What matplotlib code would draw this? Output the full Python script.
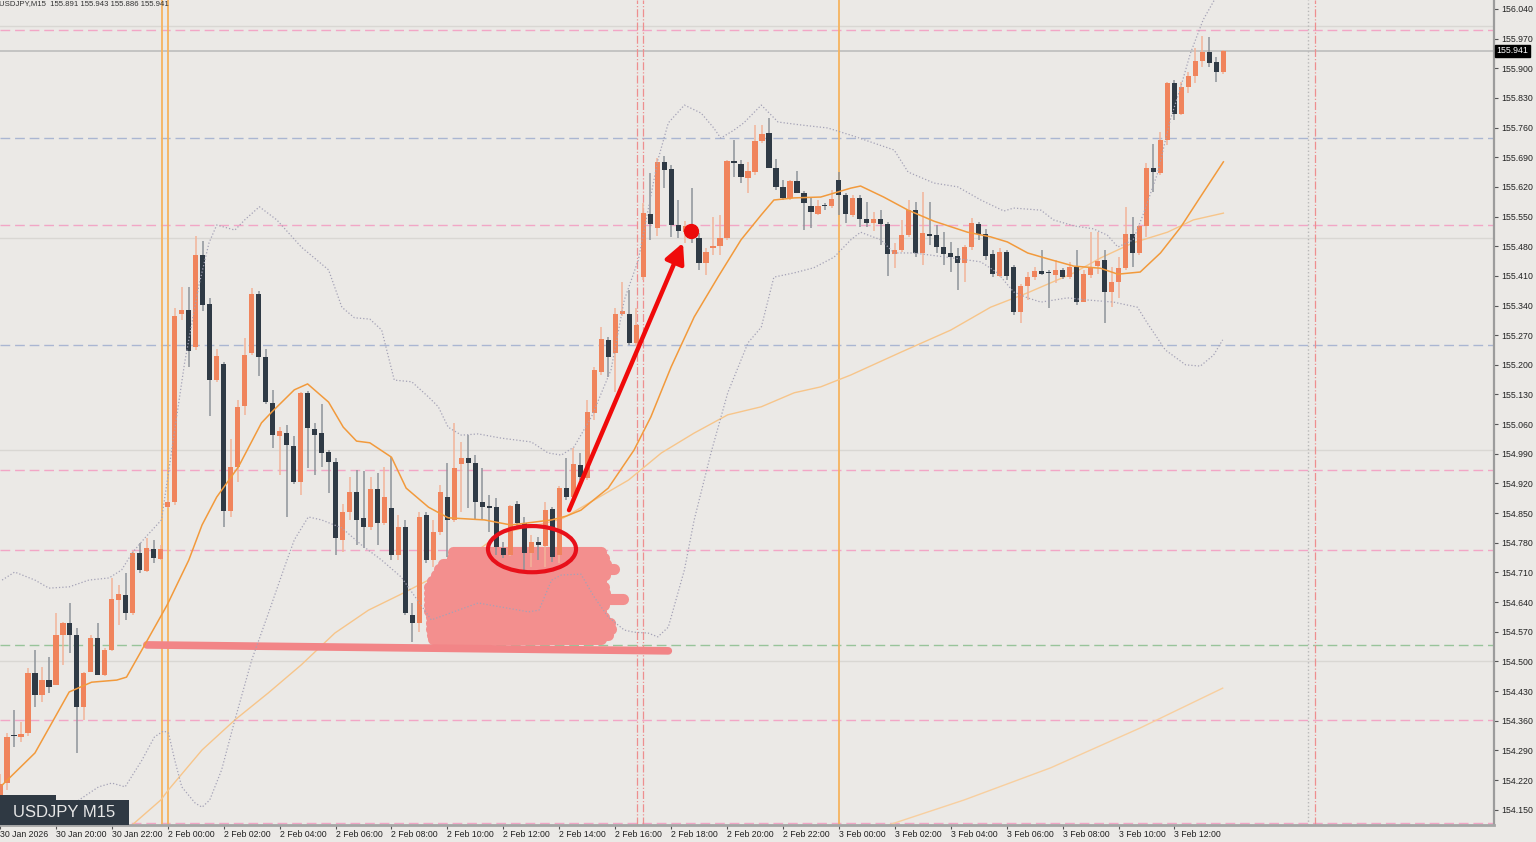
import matplotlib
matplotlib.use("Agg")
import matplotlib.pyplot as plt
import matplotlib.transforms as mtransforms
from matplotlib.patches import Ellipse, Rectangle
import numpy as np

plt.rcParams["font.family"] = ["Liberation Sans", "DejaVu Sans"]

# ---- candles (USDJPY M15, bar 0 = 30 Jan 18:00) ----
opens = [
    154.170, 154.213, 154.326, 154.322, 154.331, 154.473, 154.421, 154.456, 154.444, 154.562,
    154.591, 154.562, 154.393, 154.475, 154.555, 154.468, 154.527, 154.645, 154.657, 154.614,
    154.756, 154.713, 154.765, 154.742, 154.864, 154.876, 155.320, 155.329, 155.242, 155.459,
    155.344, 155.164, 155.202, 154.855, 154.959, 155.103, 155.228, 155.367, 155.218, 155.110,
    155.032, 155.039, 155.009, 154.923, 155.134, 155.049, 155.039, 154.994, 154.971, 154.787,
    154.853, 154.900, 154.839, 154.817, 154.907, 154.827, 154.862, 154.751, 154.817, 154.610,
    154.591, 154.846, 154.739, 154.805, 154.888, 154.834, 154.966, 154.980, 154.968, 154.876,
    154.864, 154.864, 154.768, 154.751, 154.872, 154.827, 154.756, 154.782, 154.772, 154.860,
    154.751, 154.909, 154.888, 154.964, 154.933, 155.086, 155.183, 155.259, 155.228, 155.320,
    155.320, 155.252, 155.407, 155.556, 155.523, 155.679, 155.662, 155.530, 155.514, 155.525,
    155.499, 155.440, 155.476, 155.480, 155.499, 155.681, 155.674, 155.641, 155.655, 155.728,
    155.747, 155.665, 155.620, 155.594, 155.634, 155.606, 155.575, 155.556, 155.575, 155.575,
    155.636, 155.601, 155.554, 155.594, 155.544, 155.535, 155.544, 155.532, 155.462, 155.471,
    155.506, 155.565, 155.464, 155.509, 155.506, 155.478, 155.464, 155.457, 155.440, 155.478,
    155.532, 155.509, 155.462, 155.410, 155.466, 155.431, 155.325, 155.386, 155.407, 155.421,
    155.417, 155.412, 155.424, 155.407, 155.431, 155.348, 155.412, 155.433, 155.447, 155.372,
    155.395, 155.428, 155.509, 155.464, 155.528, 155.665, 155.653, 155.731, 155.865, 155.792,
    155.856, 155.882, 155.917, 155.938, 155.915, 155.891,
]
highs = [
    154.235, 154.331, 154.385, 154.357, 154.485, 154.527, 154.487, 154.511, 154.614, 154.593,
    154.638, 154.579, 154.475, 154.562, 154.591, 154.532, 154.697, 154.680, 154.709, 154.761,
    154.780, 154.791, 154.787, 154.775, 154.881, 155.334, 155.384, 155.384, 155.504, 155.492,
    155.358, 155.237, 155.207, 155.025, 155.117, 155.263, 155.381, 155.374, 155.237, 155.141,
    155.053, 155.058, 155.032, 155.136, 155.138, 155.063, 155.108, 154.999, 154.980, 154.872,
    154.935, 154.952, 154.949, 154.935, 154.945, 154.959, 154.982, 154.846, 154.834, 154.638,
    154.853, 154.853, 154.834, 154.916, 154.968, 155.063, 155.018, 155.035, 154.987, 154.957,
    154.893, 154.886, 154.782, 154.869, 154.879, 154.841, 154.798, 154.794, 154.876, 154.864,
    154.914, 154.980, 155.004, 154.992, 155.117, 155.195, 155.289, 155.266, 155.334, 155.395,
    155.377, 155.334, 155.582, 155.653, 155.688, 155.693, 155.672, 155.589, 155.539, 155.617,
    155.511, 155.476, 155.549, 155.554, 155.683, 155.731, 155.683, 155.679, 155.766, 155.766,
    155.783, 155.686, 155.636, 155.636, 155.657, 155.610, 155.596, 155.589, 155.582, 155.613,
    155.655, 155.606, 155.601, 155.601, 155.584, 155.561, 155.565, 155.537, 155.487, 155.542,
    155.589, 155.584, 155.608, 155.584, 155.530, 155.513, 155.490, 155.476, 155.483, 155.547,
    155.537, 155.521, 155.471, 155.476, 155.471, 155.436, 155.391, 155.419, 155.431, 155.471,
    155.424, 155.447, 155.428, 155.443, 155.471, 155.424, 155.513, 155.513, 155.471, 155.431,
    155.454, 155.572, 155.549, 155.530, 155.676, 155.721, 155.749, 155.867, 155.872, 155.867,
    155.891, 155.948, 155.976, 155.974, 155.926, 155.943,
]
lows = [
    154.160, 154.197, 154.298, 154.310, 154.324, 154.393, 154.404, 154.425, 154.444, 154.492,
    154.520, 154.284, 154.362, 154.475, 154.468, 154.466, 154.525, 154.586, 154.598, 154.610,
    154.709, 154.711, 154.732, 154.740, 154.862, 154.869, 155.306, 155.195, 155.235, 155.327,
    155.079, 155.160, 154.817, 154.841, 154.923, 155.082, 155.223, 155.174, 155.108, 155.004,
    154.940, 154.841, 154.919, 154.893, 154.956, 154.940, 154.959, 154.898, 154.751, 154.758,
    154.834, 154.775, 154.768, 154.810, 154.775, 154.822, 154.739, 154.739, 154.610, 154.546,
    154.569, 154.732, 154.723, 154.798, 154.746, 154.829, 154.853, 154.862, 154.834, 154.834,
    154.805, 154.751, 154.744, 154.749, 154.815, 154.716, 154.723, 154.739, 154.723, 154.735,
    154.732, 154.881, 154.886, 154.928, 154.928, 155.070, 155.176, 155.171, 155.136, 155.315,
    155.247, 155.244, 155.400, 155.495, 155.504, 155.617, 155.502, 155.499, 155.488, 155.488,
    155.424, 155.412, 155.459, 155.459, 155.495, 155.643, 155.629, 155.606, 155.648, 155.724,
    155.665, 155.613, 155.589, 155.589, 155.606, 155.518, 155.523, 155.554, 155.565, 155.570,
    155.554, 155.535, 155.549, 155.525, 155.525, 155.516, 155.483, 155.410, 155.428, 155.466,
    155.502, 155.454, 155.436, 155.483, 155.464, 155.436, 155.419, 155.377, 155.396, 155.471,
    155.495, 155.447, 155.407, 155.407, 155.400, 155.318, 155.299, 155.353, 155.400, 155.412,
    155.334, 155.393, 155.403, 155.403, 155.341, 155.348, 155.405, 155.414, 155.299, 155.336,
    155.358, 155.424, 155.431, 155.459, 155.502, 155.608, 155.648, 155.719, 155.778, 155.790,
    155.842, 155.865, 155.903, 155.903, 155.867, 155.886,
]
closes = [
    154.210, 154.322, 154.324, 154.329, 154.473, 154.421, 154.456, 154.440, 154.562, 154.591,
    154.562, 154.393, 154.473, 154.555, 154.468, 154.527, 154.647, 154.659, 154.614, 154.756,
    154.716, 154.768, 154.744, 154.765, 154.876, 155.315, 155.329, 155.233, 155.459, 155.341,
    155.164, 155.221, 154.855, 154.959, 155.101, 155.223, 155.367, 155.218, 155.112, 155.035,
    155.044, 155.011, 154.923, 155.134, 155.051, 155.035, 154.992, 154.971, 154.791, 154.853,
    154.900, 154.834, 154.817, 154.907, 154.827, 154.888, 154.751, 154.817, 154.614, 154.591,
    154.841, 154.739, 154.805, 154.900, 154.834, 154.957, 154.980, 154.968, 154.876, 154.864,
    154.863, 154.770, 154.751, 154.867, 154.827, 154.756, 154.782, 154.775, 154.857, 154.746,
    154.909, 154.888, 154.966, 154.935, 155.089, 155.188, 155.261, 155.218, 155.320, 155.327,
    155.252, 155.294, 155.558, 155.532, 155.679, 155.660, 155.530, 155.516, 155.528, 155.499,
    155.440, 155.466, 155.480, 155.499, 155.681, 155.676, 155.643, 155.657, 155.728, 155.745,
    155.665, 155.620, 155.594, 155.634, 155.606, 155.582, 155.561, 155.575, 155.574, 155.591,
    155.601, 155.556, 155.594, 155.544, 155.535, 155.544, 155.532, 155.462, 155.471, 155.506,
    155.565, 155.464, 155.511, 155.504, 155.478, 155.462, 155.454, 155.440, 155.478, 155.535,
    155.509, 155.457, 155.414, 155.466, 155.410, 155.325, 155.386, 155.407, 155.421, 155.414,
    155.416, 155.424, 155.407, 155.431, 155.348, 155.414, 155.428, 155.445, 155.372, 155.395,
    155.428, 155.509, 155.464, 155.528, 155.665, 155.655, 155.731, 155.865, 155.792, 155.856,
    155.882, 155.917, 155.938, 155.912, 155.891, 155.941,
]

# ---- indicators, read at sample bars ----
ma_fast_bar = [0.3, 5.0, 9.9, 13.1, 16.7, 18.1, 20.7, 23.9, 27.0, 28.9, 31.0, 34.1, 37.4, 38.9,
               42.1, 44.0, 47.0, 49.1, 51.0, 52.9, 56.0, 58.1, 61.3, 64.1, 69.3, 73.1, 78.9,
               81.0, 83.1, 87.0, 90.7, 93.1, 96.0, 99.3, 102.7, 106.0, 108.9, 110.7, 113.6,
               117.4, 121.7, 123.1, 126.4, 129.9, 133.6, 138.4, 141.7, 144.1, 147.0, 149.9,
               153.6, 157.4, 159.9, 163.1, 166.0, 168.9, 171.7, 175.0]
ma_fast_val = [154.208, 154.284, 154.428, 154.451, 154.456, 154.463, 154.539, 154.633, 154.739,
               154.822, 154.888, 154.959, 155.063, 155.089, 155.141, 155.155, 155.112, 155.053,
               155.020, 155.016, 154.982, 154.909, 154.864, 154.839, 154.834, 154.822, 154.834,
               154.843, 154.857, 154.909, 154.999, 155.077, 155.195, 155.313, 155.407, 155.495,
               155.554, 155.589, 155.594, 155.596, 155.617, 155.622, 155.596, 155.565, 155.539,
               155.513, 155.502, 155.490, 155.464, 155.450, 155.433, 155.428, 155.414, 155.419,
               155.464, 155.525, 155.596, 155.679]

ma_mid_bar = [18.9, 23.0, 24.1, 28.9, 33.6, 38.4, 43.1, 47.9, 52.7, 57.4, 62.1, 67.0, 71.7, 76.4,
              80.3, 85.0, 89.9, 94.6, 99.3, 104.1, 108.9, 113.6, 117.4, 121.7, 128.9, 136.0,
              141.7, 147.0, 153.6, 157.4, 162.1, 167.0, 170.7, 175.0]
ma_mid_val = [154.114, 154.173, 154.197, 154.291, 154.362, 154.426, 154.492, 154.567, 154.621,
              154.659, 154.699, 154.746, 154.803, 154.820, 154.836, 154.881, 154.928, 154.992,
              155.039, 155.082, 155.101, 155.134, 155.148, 155.176, 155.230, 155.282, 155.336,
              155.370, 155.417, 155.452, 155.488, 155.513, 155.542, 155.558]

ma_slow_bar = [127.1, 137.9, 150.3, 163.1, 174.9]
ma_slow_val = [154.114, 154.173, 154.249, 154.343, 154.437]

bb_up_bar = [0.3, 2.1, 5.0, 7.0, 9.9, 12.7, 15.6, 17.4, 18.9, 20.7, 23.1, 26.4, 28.4, 29.9, 31.0,
             33.6, 35.0, 37.1, 39.6, 43.1, 47.0, 48.9, 50.7, 52.9, 54.6, 56.4, 58.9, 61.3, 62.7,
             64.1, 66.0, 68.4, 71.7, 76.0, 78.4, 80.3, 82.1, 84.6, 87.4, 89.3, 91.3, 92.7, 94.1,
             95.6, 97.9, 100.3, 102.1, 103.1, 105.0, 106.4, 108.9, 111.3, 114.6, 118.4, 121.7,
             127.9, 129.9, 133.6, 137.0, 140.3, 143.6, 145.0, 148.9, 150.7, 153.6, 156.4, 158.4,
             159.9, 162.1, 163.6, 165.6, 167.4, 168.9, 170.3, 172.1, 174.9]
bb_up_val = [154.692, 154.711, 154.692, 154.673, 154.676, 154.692, 154.697, 154.716, 154.756,
             154.791, 154.834, 155.204, 155.384, 155.488, 155.530, 155.518, 155.542, 155.573,
             155.542, 155.478, 155.424, 155.336, 155.311, 155.308, 155.282, 155.164, 155.160,
             155.124, 155.101, 155.053, 155.034, 155.037, 155.027, 155.018, 154.992, 154.987,
             155.006, 155.077, 155.188, 155.353, 155.447, 155.565, 155.683, 155.771, 155.813,
             155.794, 155.759, 155.735, 155.754, 155.771, 155.813, 155.773, 155.766, 155.759,
             155.742, 155.707, 155.655, 155.629, 155.620, 155.589, 155.563, 155.570, 155.565,
             155.542, 155.528, 155.521, 155.506, 155.478, 155.495, 155.558, 155.653, 155.778,
             155.856, 155.936, 156.014, 156.096]

bb_lo_bar = [9.6, 11.3, 14.1, 16.0, 17.9, 20.3, 22.1, 23.4, 24.1, 25.0, 26.0, 27.9, 28.9, 30.0,
             31.7, 33.6, 36.0, 38.4, 40.7, 42.1, 44.1, 46.0, 48.9, 51.7, 54.6, 57.4, 61.7, 68.4,
             75.6, 77.1, 78.9, 80.3, 83.1, 85.0, 87.0, 89.3, 90.7, 92.7, 94.1, 95.6, 97.9, 99.3,
             101.7, 104.1, 107.0, 108.9, 110.7, 113.6, 116.4, 119.3, 121.7, 123.1, 126.0, 127.9,
             130.7, 136.4, 140.3, 142.7, 145.0, 147.0, 148.9, 152.7, 155.6, 159.3, 162.7, 164.1,
             166.7, 169.6, 171.7, 173.6, 174.9]
bb_lo_val = [154.114, 154.173, 154.204, 154.213, 154.204, 154.267, 154.322, 154.336, 154.331,
             154.267, 154.204, 154.166, 154.156, 154.173, 154.244, 154.362, 154.503, 154.614,
             154.723, 154.787, 154.841, 154.834, 154.815, 154.775, 154.739, 154.699, 154.598,
             154.638, 154.617, 154.621, 154.692, 154.704, 154.706, 154.652, 154.605, 154.574,
             154.569, 154.567, 154.558, 154.581, 154.716, 154.834, 154.992, 155.134, 155.252,
             155.289, 155.407, 155.417, 155.429, 155.454, 155.495, 155.513, 155.495, 155.464,
             155.464, 155.452, 155.443, 155.417, 155.372, 155.358, 155.348, 155.358, 155.353,
             155.348, 155.336, 155.299, 155.235, 155.200, 155.197, 155.223, 155.259]

# ---- horizontal / vertical objects ----
pink_levels = [155.990, 155.530, 154.952, 154.763, 154.362, 154.119]
blue_levels = [155.735, 155.247]
green_levels = [154.539]
round_levels = [156.000, 155.500, 155.000, 154.500]
bid_price = 155.941
orange_vlines = [23.15, 24.0, 120.0]
pink_vlines = [91.1, 92.0, 188.1]
gray_vlines = [187.1]

price_ticks = [154.150, 154.220, 154.290, 154.360, 154.430, 154.500, 154.570, 154.640, 154.710,
               154.780, 154.850, 154.920, 154.990, 155.060, 155.130, 155.200, 155.270, 155.340,
               155.410, 155.480, 155.550, 155.620, 155.690, 155.760, 155.830, 155.900, 155.970,
               156.040]
time_tick_bars = [0, 8, 16, 24, 32, 40, 48, 56, 64, 72, 80, 88, 96, 104, 112, 120, 128, 136,
                  144, 152, 160, 168]
time_tick_labels = ["30 Jan 2026", "30 Jan 20:00", "30 Jan 22:00", "2 Feb 00:00", "2 Feb 02:00",
                    "2 Feb 04:00", "2 Feb 06:00", "2 Feb 08:00", "2 Feb 10:00", "2 Feb 12:00",
                    "2 Feb 14:00", "2 Feb 16:00", "2 Feb 18:00", "2 Feb 20:00", "2 Feb 22:00",
                    "3 Feb 00:00", "3 Feb 02:00", "3 Feb 04:00", "3 Feb 06:00", "3 Feb 08:00",
                    "3 Feb 10:00", "3 Feb 12:00"]

# hand-drawn highlight strokes: (start bar, end bar, price)
scribble = [
    (64.8, 86.0, 154.758), (64.6, 86.4, 154.745), (63.4, 86.7, 154.731), (62.8, 87.9, 154.717),
    (62.3, 86.6, 154.703), (61.8, 86.0, 154.689), (61.4, 86.4, 154.675), (61.3, 86.6, 154.661),
    (61.3, 89.1, 154.647), (61.4, 86.4, 154.633), (61.3, 86.0, 154.619), (61.6, 86.4, 154.605),
    (61.7, 87.2, 154.591), (61.6, 87.4, 154.577), (61.8, 87.0, 154.563), (61.9, 86.0, 154.552),
]
support_stroke = ([21.0, 95.6], [154.539, 154.525])
arrow_from = (81.4, 154.857)
arrow_to = (97.7, 155.488)
dot_at = (98.9, 155.516)
ellipse_c = (76.1, 154.765)

BG = "#ebe9e6"
BULL = "#f0845c"
BEAR = "#2f3a45"

fig = plt.figure(figsize=(15.36, 8.42), dpi=100, facecolor=BG)
ax = fig.add_axes([0, 17 / 842, 1494 / 1536, 825 / 842], facecolor=BG)
ax.set_xlim(0.2857, 213.71)
ax.set_ylim(154.114, 156.061)

for p in round_levels:
    ax.axhline(p, color="#d9d7d3", lw=1.0, zorder=1)
for p in pink_levels:
    ax.axhline(p, color="#f2a6c6", lw=1.0, ls=(0, (7, 3.5)), zorder=1)
for p in blue_levels:
    ax.axhline(p, color="#aab6d2", lw=1.0, ls=(0, (7, 3.5)), zorder=1)
for p in green_levels:
    ax.axhline(p, color="#98c49a", lw=1.0, ls=(0, (7, 3.5)), zorder=1)
ax.axhline(bid_price, color="#bdbdbd", lw=1.2, zorder=1)

for b in orange_vlines:
    ax.axvline(b, color="#f6b35e", lw=1.3, zorder=2)
for b in pink_vlines:
    ax.axvline(b, color="#ee8f8f", lw=0.9, ls="-.", zorder=2)
for b in gray_vlines:
    ax.axvline(b, color="#b8b8b8", lw=1.0, ls=":", zorder=2)

# slower moving averages sit under the marker
ax.plot(ma_slow_bar, ma_slow_val, color="#f8cf9f", lw=1.0, zorder=2.5)
ax.plot(ma_mid_bar, ma_mid_val, color="#f7c58a", lw=1.0, zorder=2.5)

# highlighter marks
for x0, x1, p in scribble:
    ax.plot([x0, x1], [p, p], color="#f38f8e", lw=8.0, solid_capstyle="round", zorder=3)
ax.plot(support_stroke[0], support_stroke[1], color="#f28587", lw=5.5,
        solid_capstyle="round", zorder=3)

o = np.array(opens)
h = np.array(highs)
l = np.array(lows)
c = np.array(closes)
idx = np.arange(len(o))
up = c > o
wick_col = np.where(up, "#f2b49a", "#8e949a")
body_col = np.where(up, BULL, BEAR)
ax.vlines(idx, l, h, colors=wick_col, lw=1.1, zorder=4)
ax.bar(idx, np.maximum(np.abs(c - o), 0.0028), bottom=np.minimum(o, c), width=0.74,
       color=body_col, lw=0, zorder=5)

ax.plot(bb_up_bar, bb_up_val, color="#a4a2b6", lw=0.9, ls=":", zorder=6)
ax.plot(bb_lo_bar, bb_lo_val, color="#a4a2b6", lw=0.9, ls=":", zorder=6)
ax.plot(ma_fast_bar, ma_fast_val, color="#f29a3c", lw=1.1, zorder=6)

ax.add_patch(Ellipse(ellipse_c, width=12.6, height=0.109, fill=False, ec="#e8101a",
                     lw=3.0, zorder=9))
ax.annotate("", xy=arrow_to, xytext=arrow_from,
            arrowprops=dict(arrowstyle="-|>", color="#f00a0a", lw=3.2, mutation_scale=30,
                            shrinkA=0, shrinkB=0), zorder=9)
ax.plot(*dot_at, "o", ms=10, color="#ec0a0a", zorder=9)

# axes styling
for s in ("top", "left"):
    ax.spines[s].set_visible(False)
ax.spines["right"].set_color("#9c9c9c")
ax.spines["right"].set_linewidth(1.6)
ax.spines["bottom"].set_color("#a6a6a6")
ax.spines["bottom"].set_linewidth(2.0)

ax.yaxis.tick_right()
ax.set_yticks(price_ticks)
ax.set_yticklabels([f"{p:.3f}" for p in price_ticks])
ax.tick_params(axis="y", length=3, width=0.8, color="#555555", pad=2, labelsize=6.3,
               labelcolor="#222222")
ax.set_xticks(time_tick_bars)
ax.set_xticklabels(time_tick_labels, ha="left")
ax.tick_params(axis="x", length=3, width=0.8, color="#555555", pad=0.5, labelsize=6.3,
               labelcolor="#222222")

tr = mtransforms.blended_transform_factory(ax.transAxes, ax.transData)
ax.text(1.0015, bid_price, "155.941", transform=tr, ha="left", va="center", fontsize=6.3,
        color="white", bbox=dict(boxstyle="square,pad=0.18", fc="black", ec="black"),
        clip_on=False, zorder=10)

fig.text(-0.0008, 1 - 3.5 / 842, "USDJPY,M15  155.891 155.943 155.886 155.941",
         ha="left", va="center", fontsize=5.6, color="#333333")

fig.add_artist(Rectangle((0, 17 / 842), 129 / 1536, 25 / 842, transform=fig.transFigure,
                         fc="#2f3943", ec="none", zorder=20))
fig.add_artist(Rectangle((0, 42 / 842), 56 / 1536, 5 / 842, transform=fig.transFigure,
                         fc="#2f3943", ec="none", zorder=20))
fig.text(13 / 1536, 1 - 812.5 / 842, "USDJPY M15", ha="left", va="center", fontsize=12,
         color="#e6e6e6", zorder=21)

fig.savefig("out.png", dpi=100, facecolor=BG)
